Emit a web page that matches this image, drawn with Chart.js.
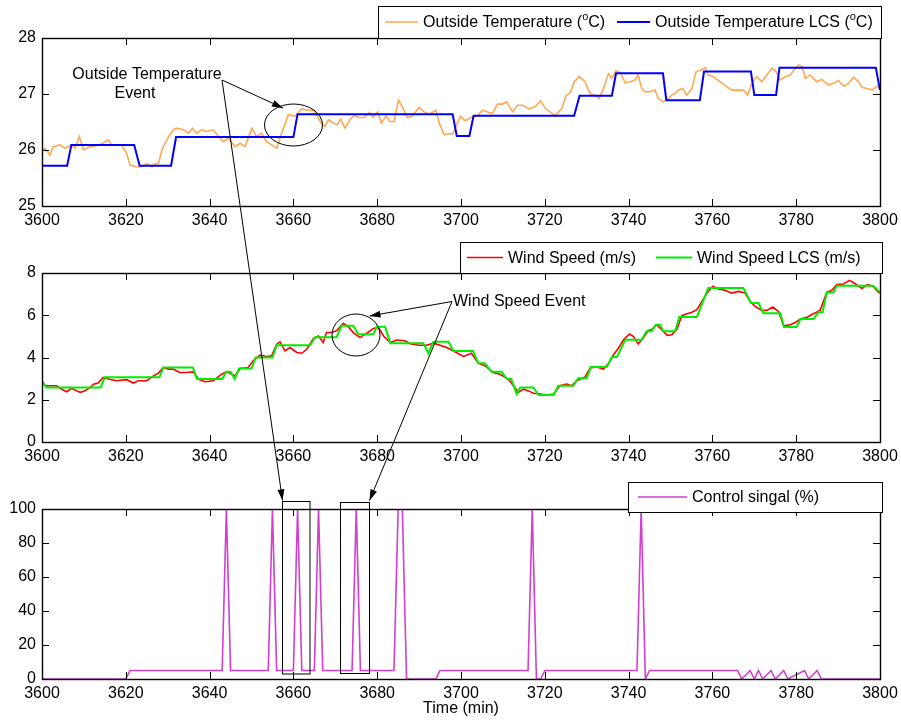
<!DOCTYPE html>
<html>
<head>
<meta charset="utf-8">
<script src="https://cdn.jsdelivr.net/npm/chart.js@4.4.1/dist/chart.umd.min.js"></script>
<style>
  body { margin: 0; background: #fff; }
  #wrap { position: relative; width: 901px; height: 720px; }
  #wrap canvas { position: absolute; left: 0; }
</style>
</head>
<body>
<div id="wrap">
  <canvas id="tempChart" width="901" height="235" style="top:0"></canvas>
  <canvas id="windChart" width="901" height="235" style="top:235px"></canvas>
  <canvas id="ctrlChart" width="901" height="250" style="top:470px"></canvas>
  <canvas id="notes" width="901" height="720" style="top:0;pointer-events:none"></canvas>
</div>
<script>
// time axis ticks
const timeTicks = [3600, 3620, 3640, 3660, 3680, 3700, 3720, 3740, 3760, 3780, 3800];

// outside temperature (degC)
const tempTime = [3600, 3600.7, 3601.9, 3602.7, 3604.3, 3605.5, 3607.1, 3607.9, 3608.9, 3609.9, 3611.5, 3613.8, 3615.8, 3616.6, 3619, 3620.2, 3621, 3622.6, 3623.8, 3625, 3626.2, 3627, 3627.8, 3628.6, 3630.2, 3631.3, 3632.1, 3633.7, 3634.9, 3635.9, 3636.9, 3638.1, 3639.3, 3640.9, 3642.1, 3643.3, 3644.5, 3646.1, 3647.3, 3648.5, 3650.1, 3651.2, 3652.4, 3653.6, 3654.8, 3656, 3657.2, 3658.8, 3660.4, 3662, 3663.2, 3664.8, 3666, 3666.6, 3667.5, 3668.4, 3669.6, 3670.4, 3671.3, 3672.3, 3673.5, 3674.5, 3675.7, 3676.9, 3678.1, 3679, 3680.1, 3681, 3682.1, 3683, 3684, 3685.1, 3686, 3687.2, 3688.4, 3690, 3691.2, 3692.4, 3694, 3694.8, 3696, 3697.2, 3698.1, 3699.1, 3699.9, 3701.1, 3702.3, 3703.9, 3705.1, 3706.3, 3707.5, 3708.7, 3709.9, 3710.9, 3712.3, 3713.5, 3714.7, 3716.3, 3717.9, 3719, 3720.2, 3721.8, 3722.6, 3724.2, 3725, 3726.2, 3727, 3728.2, 3729.6, 3730.4, 3731.2, 3732, 3733, 3734, 3735.2, 3736, 3737, 3738, 3739.2, 3740.3, 3741.5, 3742.3, 3743.1, 3743.9, 3745.1, 3746.3, 3747.1, 3748.3, 3749.5, 3750.3, 3751.1, 3751.9, 3752.9, 3753.9, 3755.1, 3756.1, 3757.1, 3758.3, 3759, 3760.2, 3761.8, 3763.4, 3764.6, 3765.8, 3767.4, 3768.4, 3769.4, 3770.6, 3771.8, 3773, 3774.2, 3775.2, 3776.2, 3777.4, 3778.6, 3779.8, 3780.6, 3781.4, 3782.2, 3783.3, 3784.9, 3786.1, 3787.7, 3788.9, 3790.1, 3791.3, 3792.5, 3793.7, 3794.9, 3795.7, 3796.9, 3798.1, 3799.3, 3800];
const tempValue = [26.00, 26.03, 25.91, 26.06, 26.09, 26.03, 26.09, 26.03, 26.24, 26.00, 26.06, 26.09, 26.18, 26.09, 26.09, 25.94, 25.73, 25.70, 25.70, 25.76, 25.70, 25.76, 25.76, 26.00, 26.24, 26.36, 26.39, 26.36, 26.30, 26.39, 26.30, 26.36, 26.33, 26.36, 26.24, 26.15, 26.21, 26.06, 26.12, 26.06, 26.39, 26.24, 26.30, 26.15, 26.09, 26.03, 26.30, 26.63, 26.60, 26.74, 26.71, 26.71, 26.57, 26.48, 26.42, 26.54, 26.48, 26.45, 26.55, 26.39, 26.54, 26.62, 26.58, 26.58, 26.67, 26.58, 26.68, 26.48, 26.61, 26.51, 26.51, 26.89, 26.77, 26.58, 26.61, 26.76, 26.68, 26.64, 26.71, 26.48, 26.27, 26.29, 26.29, 26.48, 26.60, 26.52, 26.58, 26.61, 26.71, 26.68, 26.65, 26.82, 26.82, 26.86, 26.68, 26.80, 26.80, 26.73, 26.79, 26.88, 26.74, 26.65, 26.62, 26.76, 26.96, 27.04, 27.22, 27.31, 27.22, 27.07, 26.98, 26.98, 26.92, 27.10, 27.36, 27.28, 27.42, 27.38, 27.20, 27.22, 27.25, 27.34, 27.10, 27.04, 27.04, 27.07, 26.92, 26.86, 26.92, 26.98, 27.01, 27.07, 27.10, 26.98, 27.10, 27.40, 27.42, 27.47, 27.34, 27.31, 27.22, 27.13, 27.07, 27.07, 27.07, 26.98, 27.19, 27.31, 27.22, 27.34, 27.46, 27.40, 27.25, 27.31, 27.34, 27.46, 27.52, 27.49, 27.28, 27.34, 27.22, 27.26, 27.16, 27.19, 27.24, 27.14, 27.19, 27.30, 27.22, 27.12, 27.10, 27.07, 27.14, 27.10];

// outside temperature LCS (degC)
const tempLcsTime = [3600, 3606, 3607, 3622, 3623.3, 3630.8, 3632, 3660, 3661, 3698, 3699, 3702, 3703, 3727, 3728.3, 3736, 3737, 3748.2, 3749, 3757, 3758, 3769.2, 3770, 3775.2, 3776, 3799, 3800];
const tempLcsValue = [25.72, 25.72, 26.09, 26.09, 25.72, 25.72, 26.23, 26.23, 26.64, 26.64, 26.25, 26.25, 26.61, 26.61, 26.97, 26.97, 27.37, 27.37, 26.89, 26.89, 27.40, 27.40, 26.98, 26.98, 27.47, 27.47, 27.07];

// wind speed (m/s)
const windTime = [3600, 3600.7, 3601.9, 3603.5, 3604.7, 3605.9, 3607.1, 3608.3, 3609.1, 3610.3, 3611.5, 3612.3, 3613.4, 3614.6, 3615.8, 3617.8, 3620.2, 3621.8, 3623, 3625, 3626.6, 3627.8, 3629, 3630.2, 3631.3, 3632.9, 3634.5, 3636.1, 3637.3, 3638.9, 3640.9, 3642.9, 3644.1, 3645.3, 3646.1, 3647.3, 3649.2, 3650.4, 3652, 3653.6, 3654.8, 3656, 3656.8, 3658, 3659.2, 3660.8, 3662, 3663.2, 3664.8, 3666, 3667.1, 3667.9, 3669.1, 3670.3, 3671.9, 3673.1, 3674.3, 3675.9, 3677.5, 3679.1, 3680.3, 3681.5, 3683.1, 3684.7, 3686.6, 3688.2, 3690.2, 3691.8, 3693.4, 3695, 3696.6, 3698.2, 3700.6, 3702.5, 3704.1, 3705.7, 3707.7, 3709.3, 3711.3, 3712.5, 3713.7, 3714.9, 3716.1, 3717.3, 3718.9, 3720.5, 3722.1, 3723.6, 3725.2, 3726.4, 3727.6, 3729.6, 3730.8, 3732.4, 3734, 3735.2, 3736.4, 3737.6, 3738.8, 3740.2, 3741.1, 3742.3, 3743.5, 3744.7, 3745.5, 3746.7, 3747.9, 3749.2, 3750.3, 3751.5, 3752.7, 3753.9, 3755.1, 3756.3, 3757.5, 3758.7, 3760.1, 3761.4, 3763, 3764.6, 3766.2, 3767.8, 3769, 3770.2, 3771.8, 3773, 3774.4, 3775.8, 3777, 3778.6, 3779.8, 3781, 3782.6, 3784.1, 3785.7, 3787.3, 3788.5, 3789.7, 3791.3, 3792.7, 3794.1, 3795.7, 3797, 3798.3, 3799.6, 3800];
const windValue = [2.90, 2.66, 2.66, 2.66, 2.50, 2.38, 2.54, 2.42, 2.35, 2.42, 2.58, 2.74, 2.79, 3.06, 2.98, 2.90, 2.95, 2.79, 2.90, 2.90, 3.13, 3.26, 3.53, 3.45, 3.45, 3.29, 3.29, 3.32, 2.98, 2.85, 2.90, 3.21, 3.32, 3.21, 3.13, 3.48, 3.53, 3.84, 4.11, 4.05, 4.08, 4.63, 4.74, 4.31, 4.47, 4.24, 4.20, 4.39, 4.90, 5.02, 4.71, 5.18, 5.18, 5.26, 5.62, 5.46, 5.18, 4.94, 5.15, 5.37, 5.42, 5.02, 4.71, 4.83, 4.79, 4.63, 4.58, 4.58, 4.68, 4.58, 4.47, 4.31, 4.05, 4.20, 3.73, 3.61, 3.29, 3.21, 2.98, 2.66, 2.35, 2.50, 2.42, 2.31, 2.27, 2.22, 2.27, 2.66, 2.74, 2.66, 2.90, 3.08, 3.50, 3.55, 3.45, 3.71, 4.13, 4.45, 4.84, 5.11, 5.00, 4.64, 4.92, 5.28, 5.32, 5.55, 5.32, 5.05, 5.08, 5.32, 5.98, 6.07, 6.14, 6.26, 6.66, 7.05, 7.37, 7.24, 7.18, 7.05, 7.13, 7.05, 6.66, 6.42, 6.23, 6.23, 6.39, 6.18, 5.50, 5.55, 5.66, 5.82, 5.91, 6.07, 6.23, 7.08, 7.18, 7.45, 7.48, 7.65, 7.49, 7.26, 7.45, 7.37, 7.08, 7.05];

// wind speed LCS (m/s)
const windLcsTime = [3600, 3601, 3614, 3615, 3628, 3629, 3636, 3637, 3643, 3644, 3645, 3646, 3647, 3650, 3651, 3655, 3656, 3664, 3665.2, 3670.3, 3671.5, 3674.3, 3675.5, 3679.1, 3679.9, 3681.9, 3683.1, 3691, 3692.2, 3693.4, 3697, 3698.2, 3702.9, 3704.1, 3705.7, 3707.3, 3709.7, 3710.9, 3712, 3713.3, 3714.1, 3717.3, 3718.5, 3722.1, 3723.2, 3726.8, 3728, 3730, 3731, 3734.8, 3736, 3737.2, 3739.2, 3743.1, 3744.3, 3745.5, 3746.5, 3747.5, 3748.3, 3751.1, 3752.1, 3756.3, 3759, 3767.4, 3769.2, 3771, 3772.2, 3776.2, 3777.1, 3780.1, 3781, 3784.1, 3785.3, 3786.3, 3787.3, 3788.9, 3789.7, 3798.4, 3800];
const windLcsValue = [2.90, 2.58, 2.58, 3.06, 3.06, 3.53, 3.53, 2.98, 2.98, 3.32, 3.32, 2.98, 3.48, 3.48, 4.00, 4.00, 4.58, 4.58, 4.96, 4.96, 5.50, 5.50, 5.10, 5.10, 5.45, 5.45, 4.68, 4.68, 4.20, 4.74, 4.74, 4.31, 4.31, 3.73, 3.73, 3.32, 3.32, 2.98, 2.98, 2.27, 2.58, 2.58, 2.22, 2.22, 2.66, 2.66, 3.02, 3.02, 3.55, 3.55, 4.02, 4.02, 4.84, 4.84, 5.24, 5.24, 5.55, 5.55, 5.24, 5.24, 5.92, 5.92, 7.29, 7.29, 6.58, 6.58, 6.10, 6.10, 5.44, 5.44, 5.82, 5.82, 6.14, 6.14, 7.08, 7.08, 7.40, 7.40, 7.08];

// control signal (%)
const ctrlTime = [3600, 3620, 3621, 3643, 3644, 3645, 3654, 3655, 3656, 3660, 3661, 3662, 3665, 3666, 3667, 3674, 3675, 3676, 3684, 3685, 3686, 3687, 3694, 3695, 3716, 3717, 3718, 3719, 3720, 3742, 3743, 3744, 3745, 3766, 3767, 3769, 3770, 3771, 3772, 3774, 3775, 3777, 3778, 3782, 3783, 3785, 3786, 3800];
const ctrlValue = [0, 0, 5, 5, 100, 5, 5, 100, 5, 5, 100, 5, 5, 100, 5, 5, 100, 5, 5, 100, 100, 0, 0, 5, 5, 100, 0, 0, 5, 5, 100, 0, 5, 5, 0, 5, 0, 5, 0, 5, 0, 5, 0, 5, 0, 5, 0, 0];

const FONT = '"Liberation Sans", Arial, Helvetica, sans-serif';
Chart.defaults.font.family = FONT;
Chart.defaults.font.size = 16;
Chart.defaults.color = '#000';

const pairs = (xs, ys) => xs.map((x, i) => ({x: x, y: ys[i]}));

// draws text made of parts, some of them superscript
function drawParts(ctx, parts, x, y) {
  parts.forEach(p => {
    if (p.sup) {
      ctx.font = '11px ' + FONT;
      ctx.fillText(p.t, x, y - 6);
    } else {
      ctx.font = '16px ' + FONT;
      ctx.fillText(p.t, x, y);
    }
    x += ctx.measureText(p.t).width;
  });
}

// matlab style box with inward ticks, and a boxed legend
const matlabAxes = {
  id: 'matlabAxes',
  afterDatasetsDraw(chart, args, opts) {
    const {ctx, chartArea: a, scales} = chart;
    ctx.save();
    ctx.strokeStyle = '#000';
    ctx.lineWidth = 1;
    ctx.beginPath();
    scales.x.ticks.forEach(t => {
      const px = Math.round(scales.x.getPixelForValue(t.value)) + 0.5;
      ctx.moveTo(px, a.bottom); ctx.lineTo(px, a.bottom - 7);
      ctx.moveTo(px, a.top); ctx.lineTo(px, a.top + 7);
    });
    scales.y.ticks.forEach(t => {
      const py = Math.round(scales.y.getPixelForValue(t.value)) + 0.5;
      ctx.moveTo(a.left, py); ctx.lineTo(a.left + 7, py);
      ctx.moveTo(a.right, py); ctx.lineTo(a.right - 7, py);
    });
    ctx.stroke();
    ctx.lineWidth = 1.4;
    ctx.strokeRect(Math.round(a.left) + 0.5, Math.round(a.top) + 0.5, Math.round(a.right - a.left), Math.round(a.bottom - a.top));

    const lg = opts.legend;
    if (lg) {
      ctx.fillStyle = '#fff';
      ctx.fillRect(lg.left, lg.top, lg.right - lg.left, lg.bottom - lg.top);
      ctx.lineWidth = 1;
      ctx.strokeRect(lg.left + 0.5, lg.top + 0.5, lg.right - lg.left, lg.bottom - lg.top);
      const midY = (lg.top + lg.bottom) / 2;
      lg.items.forEach(it => {
        ctx.strokeStyle = it.color;
        ctx.lineWidth = it.width;
        ctx.beginPath();
        ctx.moveTo(it.x0, midY);
        ctx.lineTo(it.x1, midY);
        ctx.stroke();
        ctx.fillStyle = '#000';
        ctx.textBaseline = 'middle';
        drawParts(ctx, it.parts, it.tx, midY + 1);
      });
    }
    ctx.restore();
  }
};

function axesFor(yMin, yMax, yStep, xHeight, title) {
  return {
    x: {
      type: 'linear', min: 3600, max: 3800,
      grid: {display: false, drawTicks: false},
      border: {display: false},
      afterBuildTicks: s => { s.ticks = timeTicks.map(v => ({value: v})); },
      ticks: {padding: 5, maxRotation: 0, autoSkip: false, font: {size: 16}, callback: v => String(v)},
      title: title ? {display: true, text: title, font: {size: 16}, padding: {top: 0, bottom: 2}} : {display: false},
      afterFit: s => { s.height = xHeight; s.paddingLeft = 0; s.paddingRight = 0; }
    },
    y: {
      min: yMin, max: yMax,
      grid: {display: false, drawTicks: false},
      border: {display: false},
      ticks: {stepSize: yStep, padding: 6, font: {size: 16}, callback: v => String(v)},
      afterFit: s => { s.width = 42; s.paddingTop = 0; s.paddingBottom = 0; }
    }
  };
}

function baseOptions(padTop, scales, legend) {
  return {
    responsive: false,
    animation: false,
    events: [],
    layout: {padding: {top: padTop, right: 21, left: 0, bottom: 0}},
    scales: scales,
    elements: {point: {radius: 0}, line: {tension: 0}},
    plugins: {
      legend: {display: false},
      tooltip: {enabled: false},
      matlabAxes: {legend: legend}
    }
  };
}

const tempChart = new Chart(document.getElementById('tempChart'), {
  type: 'line',
  data: {
    datasets: [
      {label: 'Outside Temperature (oC)', data: pairs(tempTime, tempValue), borderColor: '#ffa851', borderWidth: 1.6, order: 1},
      {label: 'Outside Temperature LCS (oC)', data: pairs(tempLcsTime, tempLcsValue), borderColor: '#0000ff', borderWidth: 2, order: 0}
    ]
  },
  options: baseOptions(38, axesFor(25, 28, 1, 29), {
    left: 378, top: 6, right: 881, bottom: 38,
    items: [
      {color: '#ffa851', width: 1.6, x0: 385, x1: 418, tx: 423, parts: [{t: 'Outside Temperature ('}, {t: 'o', sup: true}, {t: 'C)'}]},
      {color: '#0000ff', width: 2, x0: 617, x1: 650, tx: 655, parts: [{t: 'Outside Temperature LCS ('}, {t: 'o', sup: true}, {t: 'C)'}]}
    ]
  }),
  plugins: [matlabAxes]
});

const windChart = new Chart(document.getElementById('windChart'), {
  type: 'line',
  data: {
    datasets: [
      {label: 'Wind Speed (m/s)', data: pairs(windTime, windValue), borderColor: '#ff0000', borderWidth: 1.6, order: 1},
      {label: 'Wind Speed LCS (m/s)', data: pairs(windLcsTime, windLcsValue), borderColor: '#00ee00', borderWidth: 2, order: 0}
    ]
  },
  options: baseOptions(38, axesFor(0, 8, 2, 28), {
    left: 460, top: 7, right: 882, bottom: 38,
    items: [
      {color: '#ff0000', width: 1.6, x0: 467, x1: 503, tx: 508, parts: [{t: 'Wind Speed (m/s)'}]},
      {color: '#00ee00', width: 2, x0: 656, x1: 692, tx: 697, parts: [{t: 'Wind Speed LCS (m/s)'}]}
    ]
  }),
  plugins: [matlabAxes]
});

const ctrlChart = new Chart(document.getElementById('ctrlChart'), {
  type: 'line',
  data: {
    datasets: [
      {label: 'Control singal (%)', data: pairs(ctrlTime, ctrlValue), borderColor: '#d23fce', borderWidth: 1.6}
    ]
  },
  options: baseOptions(39, axesFor(0, 100, 20, 41, 'Time (min)'), {
    left: 628, top: 12, right: 882, bottom: 42,
    items: [
      {color: '#d23fce', width: 1.6, x0: 638, x1: 687, tx: 692, parts: [{t: 'Control singal (%)'}]}
    ]
  }),
  plugins: [matlabAxes]
});

// annotations that run across the three panels (page pixels)
const notes = document.getElementById('notes').getContext('2d');

function arrow(ctx, x0, y0, x1, y1, head) {
  ctx.beginPath();
  ctx.moveTo(x0, y0);
  ctx.lineTo(x1, y1);
  ctx.stroke();
  if (!head) return;
  const ang = Math.atan2(y1 - y0, x1 - x0);
  const len = 11, half = 3.5;
  const bx = x1 - len * Math.cos(ang), by = y1 - len * Math.sin(ang);
  ctx.beginPath();
  ctx.moveTo(x1, y1);
  ctx.lineTo(bx + half * Math.sin(ang), by - half * Math.cos(ang));
  ctx.lineTo(bx - half * Math.sin(ang), by + half * Math.cos(ang));
  ctx.closePath();
  ctx.fill();
}

notes.strokeStyle = '#000';
notes.fillStyle = '#000';
notes.lineWidth = 1;

// outside temperature event
notes.beginPath();
notes.ellipse(293.5, 125, 29, 21, 0, 0, Math.PI * 2);
notes.stroke();
arrow(notes, 222, 80, 283, 108, true);
arrow(notes, 222, 80, 282.5, 500.5, true);
notes.strokeRect(282.5, 501.5, 27.5, 172.5);

// wind speed event
notes.beginPath();
notes.ellipse(356, 335, 24, 21, 0, 0, Math.PI * 2);
notes.stroke();
arrow(notes, 452, 301.5, 369.5, 316, true);
arrow(notes, 452, 301.5, 369.5, 500.5, true);
notes.strokeRect(340.5, 502.5, 29, 171);

notes.font = '16px ' + FONT;
notes.textBaseline = 'middle';
notes.textAlign = 'center';
notes.fillText('Outside Temperature', 147, 75);
notes.fillText('Event', 135, 94);
notes.textAlign = 'left';
notes.fillText('Wind Speed Event', 453, 302);
</script>
</body>
</html>
